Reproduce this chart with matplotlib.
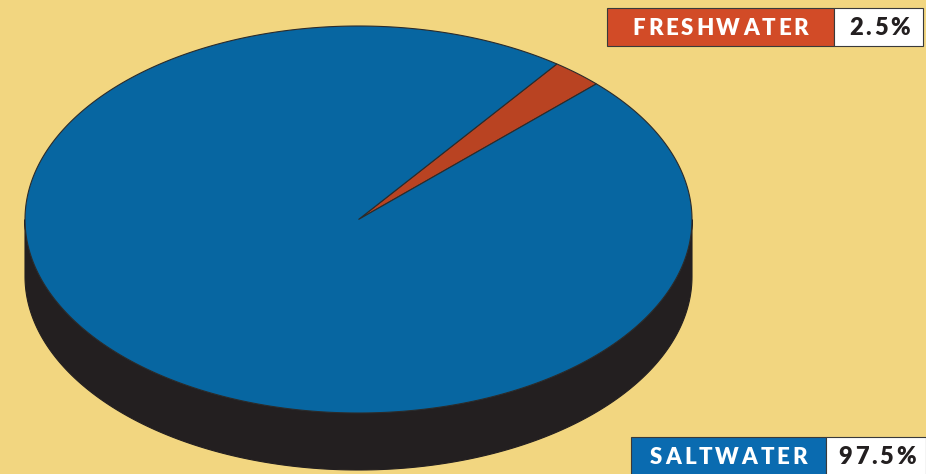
import numpy as np
import matplotlib
matplotlib.use('Agg')
import matplotlib.pyplot as plt
from matplotlib.patches import Polygon, Rectangle

# data
categories = ['FRESHWATER', 'SALTWATER']
values = [2.5, 97.5]
value_labels = ['2.5%', '97.5%']
slice_colors = ['#b94322', '#0766a1']
box_colors = ['#d24b27', '#0a6bb0']

BG = '#f2d680'
SIDE = '#231f20'
EDGE = '#2b2b2b'

# geometry of the tilted pie (pixels, y down)
cx, cy = 358.5, 219.5
rx, ry = 333.5, 193.5
depth = 57
start_angle = 44.5

fig = plt.figure(figsize=(9.26, 4.74), dpi=100)
fig.patch.set_facecolor(BG)
ax = fig.add_axes([0, 0, 1, 1])
ax.set_xlim(0, 926)
ax.set_ylim(474, 0)
ax.axis('off')


def ell(t):
    # t in degrees, counter-clockwise on screen
    r = np.radians(t)
    return cx + rx * np.cos(r), cy - ry * np.sin(r)


# side (front half of the cylinder wall)
t = np.linspace(180, 360, 200)
xs, ys = ell(t)
side = np.column_stack([np.concatenate([xs, xs[::-1]]),
                        np.concatenate([ys, ys[::-1] + depth])])
ax.add_patch(Polygon(side, closed=True, facecolor=SIDE, edgecolor=SIDE, lw=0.8))

# top face wedges
a0 = start_angle
for v, col in zip(values, slice_colors):
    a1 = a0 + v / sum(values) * 360
    tt = np.linspace(a0, a1, max(int(a1 - a0) * 2, 8))
    px, py = ell(tt)
    pts = np.column_stack([np.concatenate([[cx], px]), np.concatenate([[cy], py])])
    ax.add_patch(Polygon(pts, closed=True, facecolor=col, edgecolor=EDGE, lw=0.8,
                         joinstyle='miter'))
    a0 = a1

renderer = fig.canvas.get_renderer()


def spaced_text(x_center, y, s, color, size, track):
    # draw characters one by one with extra letter spacing, centred on x_center
    widths = []
    for ch in s:
        tx = ax.text(0, 0, ch, fontsize=size, family='Lato', weight='heavy')
        widths.append(tx.get_window_extent(renderer).width)
        tx.remove()
    total = sum(widths) + track * (len(s) - 1)
    x = x_center - total / 2
    for ch, w in zip(s, widths):
        ax.text(x, y, ch, fontsize=size, family='Lato', weight='heavy', color=color,
                ha='left', va='center')
        x += w + track


# label boxes
boxes = [(607, 8, 227, 89), (631, 437, 195, 100)]
for (bx, by, bw, vw), cat, vl, bc in zip(boxes, categories, value_labels, box_colors):
    bh = 38
    ax.add_patch(Rectangle((bx, by), bw, bh, facecolor=bc, edgecolor='#3a3a3a', lw=0.8))
    ax.add_patch(Rectangle((bx + bw, by), vw, bh, facecolor='white', edgecolor='#3a3a3a', lw=0.8))
    spaced_text(bx + bw / 2, by + bh / 2 + 1, cat, 'white', 16, 2.8)
    spaced_text(bx + bw + vw / 2 + 1, by + bh / 2 + 1, vl, SIDE, 17, 2.6)

fig.savefig('out.png', dpi=100, facecolor=BG)
